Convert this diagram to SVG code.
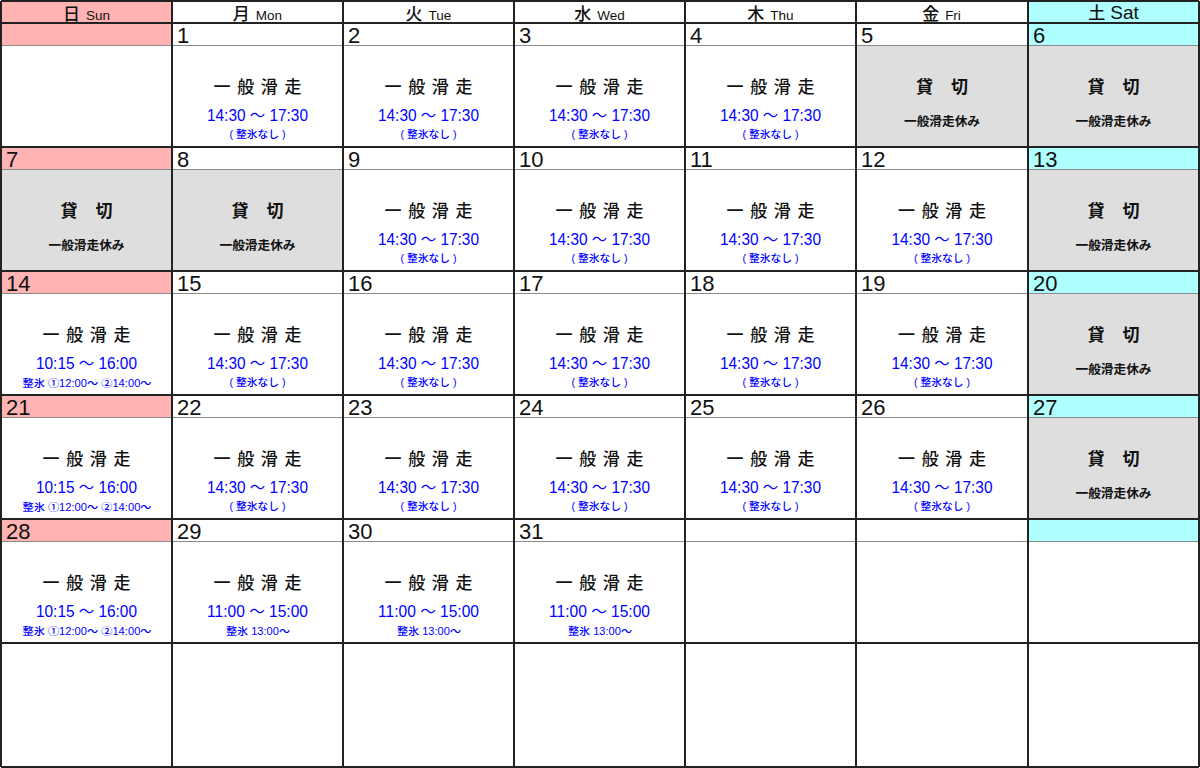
<svg xmlns="http://www.w3.org/2000/svg" width="1200" height="768" viewBox="0 0 1200 768">
<style>
.bg{fill:#ffffff}
.sun{fill:#FFB3B3}
.sat{fill:#B0FFFF}
.off{fill:#DEDEDE}
.hk{font-family:"Noto Sans CJK JP",sans-serif;font-size:17px;font-weight:500;fill:#111}
.hl{font-family:"Liberation Sans","Noto Sans CJK JP",sans-serif;font-size:13.5px;fill:#111}
.hls{font-family:"Liberation Sans","Noto Sans CJK JP",sans-serif;font-size:19px;fill:#111}
.num{font-family:"Liberation Sans",sans-serif;font-size:22px;fill:#111}
.ttl{font-family:"Noto Sans CJK JP",sans-serif;font-size:17px;font-weight:500;fill:#111;text-anchor:middle}
.tm{font-family:"Liberation Sans","Noto Sans CJK JP",sans-serif;font-size:16px;fill:#0000FF;text-anchor:middle}
.nt{font-family:"Liberation Sans","Noto Sans CJK JP",sans-serif;font-size:10.5px;font-weight:500;fill:#0000FF;text-anchor:middle}
.ks{font-family:"Noto Sans CJK JP",sans-serif;font-size:17px;font-weight:700;fill:#111;text-anchor:middle}
.ko{font-family:"Noto Sans CJK JP",sans-serif;font-size:12.5px;font-weight:700;fill:#111;text-anchor:middle}
.thick{stroke:#222;stroke-width:2;fill:none}
.thin{stroke:#8a8a8a;stroke-width:1;fill:none}
</style>
<rect x="0" y="0" width="1200" height="768" class="bg"/>

<g id="header">
  <rect x="1" y="1" width="171" height="22" class="sun"/>
  <rect x="1028" y="1" width="171" height="22" class="sat"/>
  <text x="86.5" y="19.5" text-anchor="middle"><tspan class="hk">日</tspan><tspan class="hl" dx="6">Sun</tspan></text>
  <text x="257.5" y="19.5" text-anchor="middle"><tspan class="hk">月</tspan><tspan class="hl" dx="6">Mon</tspan></text>
  <text x="428.5" y="19.5" text-anchor="middle"><tspan class="hk">火</tspan><tspan class="hl" dx="6">Tue</tspan></text>
  <text x="599.5" y="19.5" text-anchor="middle"><tspan class="hk">水</tspan><tspan class="hl" dx="6">Wed</tspan></text>
  <text x="770.5" y="19.5" text-anchor="middle"><tspan class="hk">木</tspan><tspan class="hl" dx="6">Thu</tspan></text>
  <text x="941.5" y="19.5" text-anchor="middle"><tspan class="hk">金</tspan><tspan class="hl" dx="6">Fri</tspan></text>
  <text x="1113.5" y="19" text-anchor="middle"><tspan class="hk" font-size="18">土</tspan><tspan class="hls" dx="5">Sat</tspan></text>
</g>

<!-- Week 1 -->
<g id="w1-sun" transform="translate(1,23)"><rect width="171" height="22" class="sun"/></g>
<g id="day1" transform="translate(172,23)">
  <text x="5" y="20" class="num">1</text>
  <text x="85.5" y="70" class="ttl" textLength="88" lengthAdjust="spacing">一 般 滑 走</text>
  <text x="85.5" y="98" class="tm" textLength="101" lengthAdjust="spacingAndGlyphs">14:30 ～ 17:30</text>
  <text x="85.5" y="115" class="nt" textLength="56" lengthAdjust="spacingAndGlyphs">( 整氷なし )</text>
</g>
<g id="day2" transform="translate(343,23)">
  <text x="5" y="20" class="num">2</text>
  <text x="85.5" y="70" class="ttl" textLength="88" lengthAdjust="spacing">一 般 滑 走</text>
  <text x="85.5" y="98" class="tm" textLength="101" lengthAdjust="spacingAndGlyphs">14:30 ～ 17:30</text>
  <text x="85.5" y="115" class="nt" textLength="56" lengthAdjust="spacingAndGlyphs">( 整氷なし )</text>
</g>
<g id="day3" transform="translate(514,23)">
  <text x="5" y="20" class="num">3</text>
  <text x="85.5" y="70" class="ttl" textLength="88" lengthAdjust="spacing">一 般 滑 走</text>
  <text x="85.5" y="98" class="tm" textLength="101" lengthAdjust="spacingAndGlyphs">14:30 ～ 17:30</text>
  <text x="85.5" y="115" class="nt" textLength="56" lengthAdjust="spacingAndGlyphs">( 整氷なし )</text>
</g>
<g id="day4" transform="translate(685,23)">
  <text x="5" y="20" class="num">4</text>
  <text x="85.5" y="70" class="ttl" textLength="88" lengthAdjust="spacing">一 般 滑 走</text>
  <text x="85.5" y="98" class="tm" textLength="101" lengthAdjust="spacingAndGlyphs">14:30 ～ 17:30</text>
  <text x="85.5" y="115" class="nt" textLength="56" lengthAdjust="spacingAndGlyphs">( 整氷なし )</text>
</g>
<g id="day5" transform="translate(856,23)">
  <rect y="22" width="172" height="102" class="off"/>
  <text x="5" y="20" class="num">5</text>
  <text x="86" y="70" class="ks" textLength="52" lengthAdjust="spacing">貸 切</text>
  <text x="86" y="103" class="ko" textLength="76" lengthAdjust="spacingAndGlyphs">一般滑走休み</text>
</g>
<g id="day6" transform="translate(1028,23)">
  <rect width="171" height="22" class="sat"/>
  <rect y="22" width="171" height="102" class="off"/>
  <text x="5" y="20" class="num">6</text>
  <text x="85.5" y="70" class="ks" textLength="52" lengthAdjust="spacing">貸 切</text>
  <text x="85.5" y="103" class="ko" textLength="76" lengthAdjust="spacingAndGlyphs">一般滑走休み</text>
</g>

<!-- Week 2 -->
<g id="day7" transform="translate(1,147)">
  <rect width="171" height="22" class="sun"/>
  <rect y="22" width="171" height="102" class="off"/>
  <text x="5" y="20" class="num">7</text>
  <text x="85.5" y="70" class="ks" textLength="52" lengthAdjust="spacing">貸 切</text>
  <text x="85.5" y="103" class="ko" textLength="76" lengthAdjust="spacingAndGlyphs">一般滑走休み</text>
</g>
<g id="day8" transform="translate(172,147)">
  <rect y="22" width="171" height="102" class="off"/>
  <text x="5" y="20" class="num">8</text>
  <text x="85.5" y="70" class="ks" textLength="52" lengthAdjust="spacing">貸 切</text>
  <text x="85.5" y="103" class="ko" textLength="76" lengthAdjust="spacingAndGlyphs">一般滑走休み</text>
</g>
<g id="day9" transform="translate(343,147)">
  <text x="5" y="20" class="num">9</text>
  <text x="85.5" y="70" class="ttl" textLength="88" lengthAdjust="spacing">一 般 滑 走</text>
  <text x="85.5" y="98" class="tm" textLength="101" lengthAdjust="spacingAndGlyphs">14:30 ～ 17:30</text>
  <text x="85.5" y="115" class="nt" textLength="56" lengthAdjust="spacingAndGlyphs">( 整氷なし )</text>
</g>
<g id="day10" transform="translate(514,147)">
  <text x="5" y="20" class="num">10</text>
  <text x="85.5" y="70" class="ttl" textLength="88" lengthAdjust="spacing">一 般 滑 走</text>
  <text x="85.5" y="98" class="tm" textLength="101" lengthAdjust="spacingAndGlyphs">14:30 ～ 17:30</text>
  <text x="85.5" y="115" class="nt" textLength="56" lengthAdjust="spacingAndGlyphs">( 整氷なし )</text>
</g>
<g id="day11" transform="translate(685,147)">
  <text x="5" y="20" class="num">11</text>
  <text x="85.5" y="70" class="ttl" textLength="88" lengthAdjust="spacing">一 般 滑 走</text>
  <text x="85.5" y="98" class="tm" textLength="101" lengthAdjust="spacingAndGlyphs">14:30 ～ 17:30</text>
  <text x="85.5" y="115" class="nt" textLength="56" lengthAdjust="spacingAndGlyphs">( 整氷なし )</text>
</g>
<g id="day12" transform="translate(856,147)">
  <text x="5" y="20" class="num">12</text>
  <text x="86" y="70" class="ttl" textLength="88" lengthAdjust="spacing">一 般 滑 走</text>
  <text x="86" y="98" class="tm" textLength="101" lengthAdjust="spacingAndGlyphs">14:30 ～ 17:30</text>
  <text x="86" y="115" class="nt" textLength="56" lengthAdjust="spacingAndGlyphs">( 整氷なし )</text>
</g>
<g id="day13" transform="translate(1028,147)">
  <rect width="171" height="22" class="sat"/>
  <rect y="22" width="171" height="102" class="off"/>
  <text x="5" y="20" class="num">13</text>
  <text x="85.5" y="70" class="ks" textLength="52" lengthAdjust="spacing">貸 切</text>
  <text x="85.5" y="103" class="ko" textLength="76" lengthAdjust="spacingAndGlyphs">一般滑走休み</text>
</g>

<!-- Week 3 -->
<g id="day14" transform="translate(1,271)">
  <rect width="171" height="22" class="sun"/>
  <text x="5" y="20" class="num">14</text>
  <text x="85.5" y="70" class="ttl" textLength="88" lengthAdjust="spacing">一 般 滑 走</text>
  <text x="85.5" y="98" class="tm" textLength="101" lengthAdjust="spacingAndGlyphs">10:15 ～ 16:00</text>
  <text x="86" y="116" class="nt" textLength="129" lengthAdjust="spacingAndGlyphs">整氷 ①12:00～ ②14:00～</text>
</g>
<g id="day15" transform="translate(172,271)">
  <text x="5" y="20" class="num">15</text>
  <text x="85.5" y="70" class="ttl" textLength="88" lengthAdjust="spacing">一 般 滑 走</text>
  <text x="85.5" y="98" class="tm" textLength="101" lengthAdjust="spacingAndGlyphs">14:30 ～ 17:30</text>
  <text x="85.5" y="115" class="nt" textLength="56" lengthAdjust="spacingAndGlyphs">( 整氷なし )</text>
</g>
<g id="day16" transform="translate(343,271)">
  <text x="5" y="20" class="num">16</text>
  <text x="85.5" y="70" class="ttl" textLength="88" lengthAdjust="spacing">一 般 滑 走</text>
  <text x="85.5" y="98" class="tm" textLength="101" lengthAdjust="spacingAndGlyphs">14:30 ～ 17:30</text>
  <text x="85.5" y="115" class="nt" textLength="56" lengthAdjust="spacingAndGlyphs">( 整氷なし )</text>
</g>
<g id="day17" transform="translate(514,271)">
  <text x="5" y="20" class="num">17</text>
  <text x="85.5" y="70" class="ttl" textLength="88" lengthAdjust="spacing">一 般 滑 走</text>
  <text x="85.5" y="98" class="tm" textLength="101" lengthAdjust="spacingAndGlyphs">14:30 ～ 17:30</text>
  <text x="85.5" y="115" class="nt" textLength="56" lengthAdjust="spacingAndGlyphs">( 整氷なし )</text>
</g>
<g id="day18" transform="translate(685,271)">
  <text x="5" y="20" class="num">18</text>
  <text x="85.5" y="70" class="ttl" textLength="88" lengthAdjust="spacing">一 般 滑 走</text>
  <text x="85.5" y="98" class="tm" textLength="101" lengthAdjust="spacingAndGlyphs">14:30 ～ 17:30</text>
  <text x="85.5" y="115" class="nt" textLength="56" lengthAdjust="spacingAndGlyphs">( 整氷なし )</text>
</g>
<g id="day19" transform="translate(856,271)">
  <text x="5" y="20" class="num">19</text>
  <text x="86" y="70" class="ttl" textLength="88" lengthAdjust="spacing">一 般 滑 走</text>
  <text x="86" y="98" class="tm" textLength="101" lengthAdjust="spacingAndGlyphs">14:30 ～ 17:30</text>
  <text x="86" y="115" class="nt" textLength="56" lengthAdjust="spacingAndGlyphs">( 整氷なし )</text>
</g>
<g id="day20" transform="translate(1028,271)">
  <rect width="171" height="22" class="sat"/>
  <rect y="22" width="171" height="102" class="off"/>
  <text x="5" y="20" class="num">20</text>
  <text x="85.5" y="70" class="ks" textLength="52" lengthAdjust="spacing">貸 切</text>
  <text x="85.5" y="103" class="ko" textLength="76" lengthAdjust="spacingAndGlyphs">一般滑走休み</text>
</g>

<!-- Week 4 -->
<g id="day21" transform="translate(1,395)">
  <rect width="171" height="22" class="sun"/>
  <text x="5" y="20" class="num">21</text>
  <text x="85.5" y="70" class="ttl" textLength="88" lengthAdjust="spacing">一 般 滑 走</text>
  <text x="85.5" y="98" class="tm" textLength="101" lengthAdjust="spacingAndGlyphs">10:15 ～ 16:00</text>
  <text x="86" y="116" class="nt" textLength="129" lengthAdjust="spacingAndGlyphs">整氷 ①12:00～ ②14:00～</text>
</g>
<g id="day22" transform="translate(172,395)">
  <text x="5" y="20" class="num">22</text>
  <text x="85.5" y="70" class="ttl" textLength="88" lengthAdjust="spacing">一 般 滑 走</text>
  <text x="85.5" y="98" class="tm" textLength="101" lengthAdjust="spacingAndGlyphs">14:30 ～ 17:30</text>
  <text x="85.5" y="115" class="nt" textLength="56" lengthAdjust="spacingAndGlyphs">( 整氷なし )</text>
</g>
<g id="day23" transform="translate(343,395)">
  <text x="5" y="20" class="num">23</text>
  <text x="85.5" y="70" class="ttl" textLength="88" lengthAdjust="spacing">一 般 滑 走</text>
  <text x="85.5" y="98" class="tm" textLength="101" lengthAdjust="spacingAndGlyphs">14:30 ～ 17:30</text>
  <text x="85.5" y="115" class="nt" textLength="56" lengthAdjust="spacingAndGlyphs">( 整氷なし )</text>
</g>
<g id="day24" transform="translate(514,395)">
  <text x="5" y="20" class="num">24</text>
  <text x="85.5" y="70" class="ttl" textLength="88" lengthAdjust="spacing">一 般 滑 走</text>
  <text x="85.5" y="98" class="tm" textLength="101" lengthAdjust="spacingAndGlyphs">14:30 ～ 17:30</text>
  <text x="85.5" y="115" class="nt" textLength="56" lengthAdjust="spacingAndGlyphs">( 整氷なし )</text>
</g>
<g id="day25" transform="translate(685,395)">
  <text x="5" y="20" class="num">25</text>
  <text x="85.5" y="70" class="ttl" textLength="88" lengthAdjust="spacing">一 般 滑 走</text>
  <text x="85.5" y="98" class="tm" textLength="101" lengthAdjust="spacingAndGlyphs">14:30 ～ 17:30</text>
  <text x="85.5" y="115" class="nt" textLength="56" lengthAdjust="spacingAndGlyphs">( 整氷なし )</text>
</g>
<g id="day26" transform="translate(856,395)">
  <text x="5" y="20" class="num">26</text>
  <text x="86" y="70" class="ttl" textLength="88" lengthAdjust="spacing">一 般 滑 走</text>
  <text x="86" y="98" class="tm" textLength="101" lengthAdjust="spacingAndGlyphs">14:30 ～ 17:30</text>
  <text x="86" y="115" class="nt" textLength="56" lengthAdjust="spacingAndGlyphs">( 整氷なし )</text>
</g>
<g id="day27" transform="translate(1028,395)">
  <rect width="171" height="22" class="sat"/>
  <rect y="22" width="171" height="102" class="off"/>
  <text x="5" y="20" class="num">27</text>
  <text x="85.5" y="70" class="ks" textLength="52" lengthAdjust="spacing">貸 切</text>
  <text x="85.5" y="103" class="ko" textLength="76" lengthAdjust="spacingAndGlyphs">一般滑走休み</text>
</g>

<!-- Week 5 -->
<g id="day28" transform="translate(1,519)">
  <rect width="171" height="22" class="sun"/>
  <text x="5" y="20" class="num">28</text>
  <text x="85.5" y="70" class="ttl" textLength="88" lengthAdjust="spacing">一 般 滑 走</text>
  <text x="85.5" y="98" class="tm" textLength="101" lengthAdjust="spacingAndGlyphs">10:15 ～ 16:00</text>
  <text x="86" y="116" class="nt" textLength="129" lengthAdjust="spacingAndGlyphs">整氷 ①12:00～ ②14:00～</text>
</g>
<g id="day29" transform="translate(172,519)">
  <text x="5" y="20" class="num">29</text>
  <text x="85.5" y="70" class="ttl" textLength="88" lengthAdjust="spacing">一 般 滑 走</text>
  <text x="85.5" y="98" class="tm" textLength="101" lengthAdjust="spacingAndGlyphs">11:00 ～ 15:00</text>
  <text x="86" y="116" class="nt" textLength="64" lengthAdjust="spacingAndGlyphs">整氷 13:00～</text>
</g>
<g id="day30" transform="translate(343,519)">
  <text x="5" y="20" class="num">30</text>
  <text x="85.5" y="70" class="ttl" textLength="88" lengthAdjust="spacing">一 般 滑 走</text>
  <text x="85.5" y="98" class="tm" textLength="101" lengthAdjust="spacingAndGlyphs">11:00 ～ 15:00</text>
  <text x="86" y="116" class="nt" textLength="64" lengthAdjust="spacingAndGlyphs">整氷 13:00～</text>
</g>
<g id="day31" transform="translate(514,519)">
  <text x="5" y="20" class="num">31</text>
  <text x="85.5" y="70" class="ttl" textLength="88" lengthAdjust="spacing">一 般 滑 走</text>
  <text x="85.5" y="98" class="tm" textLength="101" lengthAdjust="spacingAndGlyphs">11:00 ～ 15:00</text>
  <text x="86" y="116" class="nt" textLength="64" lengthAdjust="spacingAndGlyphs">整氷 13:00～</text>
</g>
<g id="w5-sat" transform="translate(1028,519)"><rect width="171" height="22" class="sat"/></g>

<g id="grid">
  <path class="thin" d="M1 45.5H1199M1 169.5H1199M1 293.5H1199M1 417.5H1199M1 541.5H1199"/>
  <path class="thick" d="M1 1H1199M1 23H1199M1 147H1199M1 271H1199M1 395H1199M1 519H1199M1 643H1199M1 767H1199"/>
  <path class="thick" d="M1 1V767M172 1V767M343 1V767M514 1V767M685 1V767M856 1V767M1028 1V767M1199 1V767"/>
</g>
</svg>
